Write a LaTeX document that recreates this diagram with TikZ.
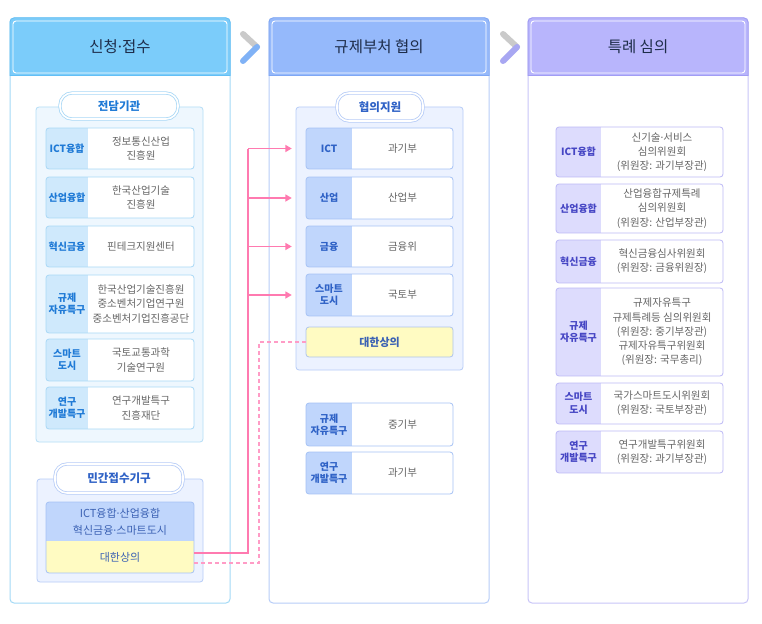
\documentclass[tikz,border=0pt]{standalone}
\usepackage{fontspec}
\setmainfont{Noto Sans CJK KR}
\newfontfamily\latinf{Noto Sans}
\newcommand\mdot{{\latinf\char"00B7}}
\usetikzlibrary{arrows.meta,fit,calc}
\definecolor{hdrtxt}{HTML}{1E2D4A}
\definecolor{bodygray}{HTML}{666666}
\definecolor{aA}{HTML}{A3DAF6}
\definecolor{aH}{HTML}{7BCCFA}
\definecolor{aHb}{HTML}{63BFF5}
\definecolor{aLab}{HTML}{CFE9FC}
\definecolor{aLabB}{HTML}{A9D8F6}
\definecolor{aTxt}{HTML}{1F7AD6}
\definecolor{aGrp}{HTML}{EEF7FE}
\definecolor{aGrpB}{HTML}{B5DEF7}
\definecolor{bA}{HTML}{B7CDF8}
\definecolor{bH}{HTML}{95B9FB}
\definecolor{bHb}{HTML}{7FA7F4}
\definecolor{bLab}{HTML}{C0D6FC}
\definecolor{bLabB}{HTML}{A6C2F5}
\definecolor{bTxt}{HTML}{2F62C6}
\definecolor{bGrp}{HTML}{ECF2FF}
\definecolor{bGrpB}{HTML}{B7CCF7}
\definecolor{cA}{HTML}{C9C5F8}
\definecolor{cH}{HTML}{B8B5FC}
\definecolor{cHb}{HTML}{A19DF4}
\definecolor{cLab}{HTML}{DDDCFD}
\definecolor{cLabB}{HTML}{BDB9F6}
\definecolor{cTxt}{HTML}{4646C4}
\definecolor{yel}{HTML}{FFFBC2}
\definecolor{yelB}{HTML}{AFC4EC}
\definecolor{yelTxt}{HTML}{3C62B4}
\definecolor{pinkS}{HTML}{FF7AB0}
\definecolor{pinkD}{HTML}{FF9CC6}
\definecolor{chevG}{HTML}{CACACA}
\definecolor{chevA}{HTML}{80B2F6}
\definecolor{chevB}{HTML}{A8A7F2}
\tikzset{
  hdr/.style={font=\fontsize{15.5}{18}\selectfont, text=hdrtxt},
  labtxt/.style={font=\bfseries\fontsize{10}{12.5}\selectfont, text=ltext, align=center, inner sep=0pt},
  bodytxt/.style={font=\fontsize{10.5}{14.2}\selectfont, text=bodygray, align=center, inner sep=0pt},
  pilltxt/.style={font=\bfseries\fontsize{11.5}{14}\selectfont, text=ltext, inner sep=0pt},
  pinkline/.style={draw=pinkS, line width=1.7pt},
  pinkarrow/.style={draw=pinkS, line width=1.7pt, -{Triangle[length=6.5pt,width=7pt]}},
  pinkdash/.style={draw=pinkD, line width=1.2pt, dash pattern=on 4pt off 3pt},
  chev/.style={line width=6pt, line cap=round},
}
% column: name, x1, x2, border, header fill, header border, title
\newcommand\stagecol[7]{%
  \fill[white, rounded corners=4pt] (#2,18) rectangle (#3,603);
  \begin{scope}
    \clip[rounded corners=4pt] (#2,18) rectangle (#3,603);
    \fill[#5] (#2,18) rectangle (#3,76);
  \end{scope}
  \draw[#4, rounded corners=4pt, line width=1pt] (#2,18) rectangle (#3,603);
  \draw[#6, line width=1pt, rounded corners=4pt] (#2,76) -- (#2,18) -- (#3,18) -- (#3,76);
  \draw[#6, line width=1pt] (#2,76) -- (#3,76);
  \draw[white, line width=0.9pt, rounded corners=3pt] (#2+3,21) rectangle (#3-3,73);
  \node[hdr] (#1) at ({(#2+#3)/2},47) {#7};
}
% row: name, x1, y1, x2, y2, xsplit, label, body
\newcommand\rowbox[8]{%
  \begin{scope}
    \clip[rounded corners=3pt] (#2,#3) rectangle (#4,#5);
    \fill[white] (#2,#3) rectangle (#4,#5);
    \fill[lfill] (#2,#3) rectangle (#6,#5);
  \end{scope}
  \draw[lborder, rounded corners=3pt, line width=0.8pt] (#2,#3) rectangle (#4,#5);
  \node[fit={(#2,#3) (#4,#5)}, inner sep=0pt] (#1) {};
  \node[labtxt] (#1-l) at ({(#2+#6)/2},{(#3+#5)/2}) {#7};
  \node[bodytxt] (#1-b) at ({(#6+#4)/2},{(#3+#5)/2}) {#8};
}
% pill: name, x1, y1, x2, y2, text
\newcommand\pill[6]{%
  \draw[lborder, double=white, double distance=1.6pt, line width=0.8pt, fill=white, rounded corners=12pt] (#2,#3) rectangle (#4,#5);
  \node[pilltxt] (#1) at ({(#2+#4)/2},{(#3+#5)/2}) {#6};
}
\begin{document}
\begin{tikzpicture}[x=1pt,y=-1pt]
\useasboundingbox (0,0) rectangle (762,623);
\fill[white] (0,0) rectangle (762,623);

% columns
\stagecol{h1}{10}{230}{aA}{aH}{aHb}{신청\mdot 접수}
\stagecol{h2}{269}{489}{bA}{bH}{bHb}{규제부처 협의}
\stagecol{h3}{528}{748}{cA}{cH}{cHb}{특례 심의}

% chevrons
\draw[chev, chevG] (243,34) -- (257,47);
\draw[chev, chevA] (257,47) -- (243,61);
\draw[chev, chevG] (503,34) -- (517,47);
\draw[chev, chevB] (517,47) -- (503,61);

% ---------- column 1 ----------
\colorlet{lfill}{aLab}\colorlet{lborder}{aLabB}\colorlet{ltext}{aTxt}
\draw[aGrpB, fill=aGrp, rounded corners=3pt, line width=0.8pt] (36,107) rectangle (203,442);
\pill{p1}{60}{93}{178}{119}{전담기관}
\rowbox{a1}{46}{128}{194}{169}{88}{ICT융합}{정보통신산업\\진흥원}
\rowbox{a2}{46}{177}{194}{218}{88}{산업융합}{한국산업기술\\진흥원}
\rowbox{a3}{46}{226}{194}{267}{88}{혁신금융}{핀테크지원센터}
\rowbox{a4}{46}{275}{194}{333}{88}{규제\\자유특구}{한국산업기술진흥원\\중소벤처기업연구원\\중소벤처기업진흥공단}
\rowbox{a5}{46}{339}{194}{381}{88}{스마트\\도시}{국토교통과학\\기술연구원}
\rowbox{a6}{46}{387}{194}{429}{88}{연구\\개발특구}{연구개발특구\\진흥재단}

% private reception
\colorlet{lborder}{bGrpB}\colorlet{ltext}{bTxt}
\draw[bGrpB, fill=bGrp, rounded corners=3pt, line width=0.8pt] (37,479) rectangle (203,582);
\pill{p2}{55}{464}{183}{493}{민간접수기구}
\begin{scope}
  \clip[rounded corners=3pt] (46,502) rectangle (194,573);
  \fill[bLab] (46,502) rectangle (194,541);
  \fill[yel] (46,541) rectangle (194,573);
\end{scope}
\draw[bLabB, rounded corners=3pt, line width=0.8pt] (46,502) rectangle (194,573);
\node[font=\fontsize{11}{17}\selectfont, text=yelTxt, align=center] (mtop) at (120,521.5) {ICT융합\mdot 산업융합\\혁신금융\mdot 스마트도시};
\node[fit={(46,541) (194,573)}, inner sep=0pt] (c1dh) {};
\node[font=\fontsize{11}{13}\selectfont, text=yelTxt] (c1dht) at (120,557) {대한상의};

% ---------- column 2 ----------
\colorlet{lfill}{bLab}\colorlet{lborder}{bLabB}\colorlet{ltext}{bTxt}
\draw[bGrpB, fill=bGrp, rounded corners=3pt, line width=0.8pt] (296,107) rectangle (463,370);
\colorlet{lborder}{bGrpB}
\pill{p3}{337}{93}{423}{121}{협의지원}
\colorlet{lborder}{bLabB}
\rowbox{b1}{306}{128}{453}{169}{352}{ICT}{과기부}
\rowbox{b2}{306}{177}{453}{219}{352}{산업}{산업부}
\rowbox{b3}{306}{226}{453}{267}{352}{금융}{금융위}
\rowbox{b4}{306}{274}{453}{316}{352}{스마트\\도시}{국토부}
\draw[yelB, fill=yel, rounded corners=3pt, line width=0.8pt] (306,327) rectangle (453,357);
\node[fit={(306,327) (453,357)}, inner sep=0pt] (c2dh) {};
\node[font=\bfseries\fontsize{11}{13}\selectfont, text=yelTxt] (c2dht) at (379.5,342) {대한상의};
\rowbox{b5}{306}{403}{453}{446}{352}{규제\\자유특구}{중기부}
\rowbox{b6}{306}{452}{453}{494}{352}{연구\\개발특구}{과기부}

% ---------- column 3 ----------
\colorlet{lfill}{cLab}\colorlet{lborder}{cLabB}\colorlet{ltext}{cTxt}
\rowbox{c1}{556}{127}{723}{177}{601}{ICT융합}{신기술\mdot 서비스\\심의위원회\\(위원장: 과기부장관)}
\rowbox{c2}{556}{184}{723}{233}{601}{산업융합}{산업융합규제특례\\심의위원회\\(위원장: 산업부장관)}
\rowbox{c3}{556}{240}{723}{283}{601}{혁신금융}{혁신금융심사위원회\\(위원장: 금융위원장)}
\rowbox{c4}{556}{288}{723}{376}{601}{규제\\자유특구}{규제자유특구\\규제특례등 심의위원회\\(위원장: 중기부장관)\\규제자유특구위원회\\(위원장: 국무총리)}
\rowbox{c5}{556}{383}{723}{424}{601}{스마트\\도시}{국가스마트도시위원회\\(위원장: 국토부장관)}
\rowbox{c6}{556}{431}{723}{473}{601}{연구\\개발특구}{연구개발특구위원회\\(위원장: 과기부장관)}

% ---------- connectors ----------
\coordinate (jx) at (248,0);
\coordinate (jd) at (259,0);
\coordinate (c1lo) at ([yshift=-6pt]c1dh.east);
\draw[pinkdash] (c2dh.west) -| (jd |- c1lo) -- (c1lo);
\draw[pinkline] ([yshift=4pt]c1dh.east) -| (jx |- b1.west);
\draw[pinkarrow, shorten >=14pt] (jx |- b1.west) -- (b1.west);
\draw[pinkarrow, shorten >=14pt] (jx |- b2.west) -- (b2.west);
\draw[pinkarrow, shorten >=14pt] (jx |- b3.west) -- (b3.west);
\draw[pinkarrow, shorten >=14pt] (jx |- b4.west) -- (b4.west);
\end{tikzpicture}
\end{document}
